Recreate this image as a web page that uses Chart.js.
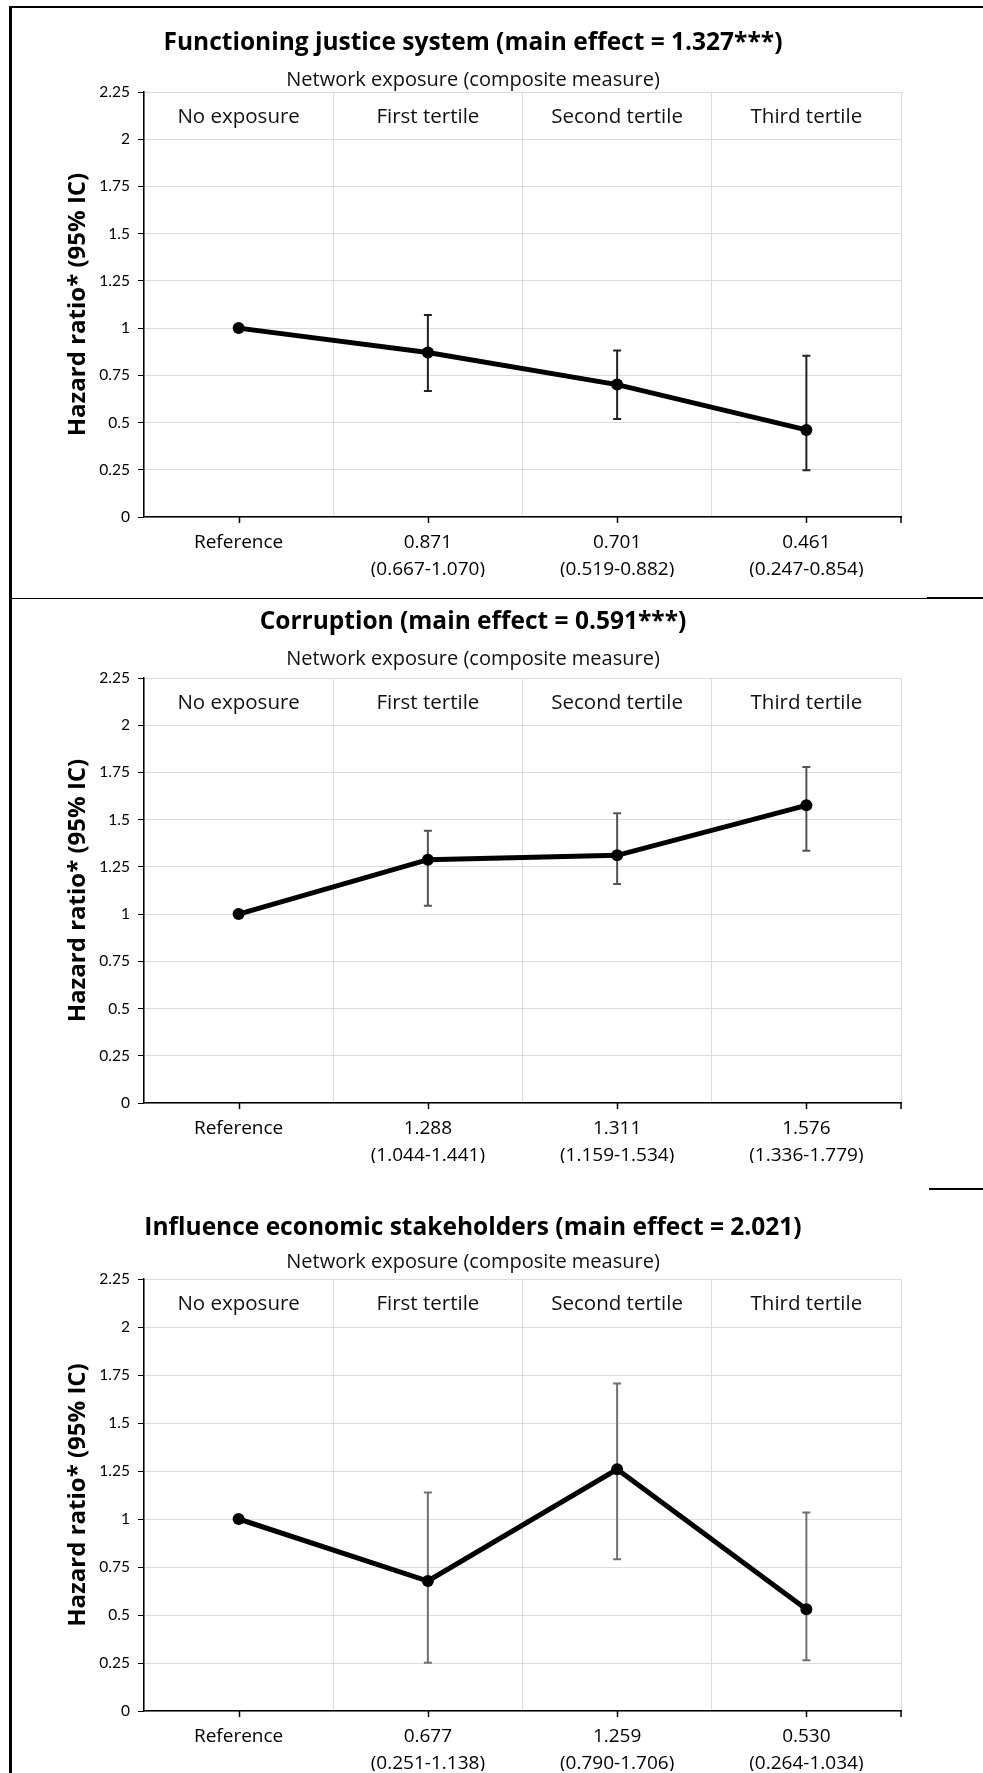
<!DOCTYPE html>
<html>
<head>
<meta charset="utf-8">
<script src="https://cdn.jsdelivr.net/npm/chart.js@4.4.1/dist/chart.umd.min.js"></script>
<style>
  body { margin: 0; background: #fff; width: 983px; height: 1773px; position: relative; overflow: hidden; }
  .panel { position: absolute; left: 0; width: 983px; }
  .panel canvas { display: block; }
  .rule { position: absolute; background: #000; }
</style>
</head>
<body>
<div class="panel" style="top:8px;height:582px"><canvas id="justice" width="983" height="582"></canvas></div>
<div class="panel" style="top:600px;height:585px"><canvas id="corruption" width="983" height="585"></canvas></div>
<div class="panel" style="top:1190px;height:583px"><canvas id="stakeholders" width="983" height="583"></canvas></div>

<div class="rule" style="left:9px;top:6px;width:3px;height:1767px"></div>
<div class="rule" style="left:9px;top:6px;width:974px;height:2px"></div>
<div class="rule" style="left:10px;top:598px;width:917px;height:1px"></div>
<div class="rule" style="left:927px;top:597px;width:56px;height:2px"></div>
<div class="rule" style="left:929px;top:1188px;width:54px;height:2px"></div>

<script>
(function() {
  'use strict';

  var CATEGORIES = ['No exposure', 'First tertile', 'Second tertile', 'Third tertile'];
  var REF_LABEL = 'Reference';
  var AXIS_TITLE_X = 'Network exposure (composite measure)';
  var AXIS_TITLE_Y = 'Hazard ratio* (95% IC)';
  var Y_MAX = 2.25;
  var Y_STEP = 0.25;

  var JUSTICE_HR = [1, 0.871, 0.701, 0.461];
  var JUSTICE_LOW = [null, 0.667, 0.519, 0.247];
  var JUSTICE_HIGH = [null, 1.070, 0.882, 0.854];

  var CORRUPTION_HR = [1, 1.288, 1.311, 1.576];
  var CORRUPTION_LOW = [null, 1.044, 1.159, 1.336];
  var CORRUPTION_HIGH = [null, 1.441, 1.534, 1.779];

  var STAKE_HR = [1, 0.677, 1.259, 0.530];
  var STAKE_LOW = [null, 0.251, 0.790, 0.264];
  var STAKE_HIGH = [null, 1.138, 1.706, 1.034];

  var FONT = '"Open Sans", Lato, "DejaVu Sans", sans-serif';
  var TICK_FONT = 'Lato, "Open Sans", sans-serif';
  Chart.defaults.font.family = FONT;
  Chart.defaults.color = '#000';

  function tickLabels(hr, low, high) {
    return hr.map(function(v, i) {
      if (low[i] == null) return REF_LABEL;
      return [v.toFixed(3), '(' + low[i].toFixed(3) + '-' + high[i].toFixed(3) + ')'];
    });
  }

  /* vertical CI bars with small caps, under the line */
  var errorBars = {
    id: 'errorBars',
    beforeDatasetsDraw: function(chart, args, opts) {
      var ctx = chart.ctx, xs = chart.scales.x, ys = chart.scales.y;
      ctx.save();
      ctx.strokeStyle = opts.color;
      ctx.lineWidth = 2;
      opts.low.forEach(function(lo, i) {
        if (lo == null) return;
        var px = xs.getPixelForValue(i);
        var top = ys.getPixelForValue(opts.high[i]);
        var bot = ys.getPixelForValue(lo);
        ctx.beginPath();
        ctx.moveTo(px, top); ctx.lineTo(px, bot);
        ctx.moveTo(px - 4, top); ctx.lineTo(px + 4, top);
        ctx.moveTo(px - 4, bot); ctx.lineTo(px + 4, bot);
        ctx.stroke();
      });
      ctx.restore();
    }
  };

  /* category names inside the top of the plot, and x tick marks at centres */
  var categoryHeads = {
    id: 'categoryHeads',
    afterDraw: function(chart) {
      var ctx = chart.ctx, xs = chart.scales.x, area = chart.chartArea;
      ctx.save();
      ctx.fillStyle = '#111';
      ctx.font = '20.5px ' + FONT;
      ctx.textAlign = 'center';
      ctx.textBaseline = 'middle';
      CATEGORIES.forEach(function(name, i) {
        ctx.fillText(name, xs.getPixelForValue(i), area.top + 25);
      });
      ctx.strokeStyle = '#000';
      ctx.lineWidth = 1.5;
      ctx.beginPath();
      CATEGORIES.forEach(function(name, i) {
        var px = Math.round(xs.getPixelForValue(i)) + 0.5;
        ctx.moveTo(px, area.bottom); ctx.lineTo(px, area.bottom + 6);
      });
      ctx.moveTo(area.right, area.bottom); ctx.lineTo(area.right, area.bottom + 6);
      ctx.stroke();
      ctx.restore();
    }
  };

  function makeChart(id, title, hr, low, high, barColor, lay) {
    var canvas = document.getElementById(id);
    var H = canvas.height;
    var xHeight = 60;
    new Chart(canvas.getContext('2d'), {
      type: 'line',
      data: {
        labels: tickLabels(hr, low, high),
        datasets: [{
          data: hr,
          borderColor: '#000',
          backgroundColor: '#000',
          borderWidth: 5,
          tension: 0,
          pointRadius: 6,
          pointBackgroundColor: '#000',
          pointBorderWidth: 0
        }]
      },
      options: {
        responsive: false,
        animation: false,
        events: [],
        layout: { padding: { left: 45, right: 82, top: 0, bottom: H - lay.bottom - xHeight } },
        plugins: {
          legend: { display: false },
          tooltip: { enabled: false },
          title: {
            display: true, text: title, color: '#000',
            font: { size: 24.5, weight: 'bold', lineHeight: 1.2 },
            padding: { top: lay.title - 14.7, bottom: (lay.sub - 12) - (lay.title + 14.7) }
          },
          subtitle: {
            display: true, text: AXIS_TITLE_X, color: '#111',
            font: { size: 20, lineHeight: 1.2 },
            padding: { top: 0, bottom: lay.top - (lay.sub + 12) }
          },
          errorBars: { low: low, high: high, color: barColor }
        },
        scales: {
          x: {
            type: 'category',
            offset: true,
            grid: { offset: true, color: '#dcdcdc', lineWidth: 1, drawTicks: false },
            border: { color: '#000', width: 1.5 },
            ticks: { color: '#000', font: { size: 19, lineHeight: 1.42 }, padding: 12, maxRotation: 0, autoSkip: false },
            afterFit: function(s) { s.height = xHeight; }
          },
          y: {
            min: 0, max: Y_MAX,
            grid: { color: '#dcdcdc', lineWidth: 1, tickColor: '#000', tickLength: 6 },
            border: { color: '#000', width: 1.5 },
            ticks: {
              stepSize: Y_STEP, color: '#000', padding: 8,
              font: { size: 15.5, family: TICK_FONT },
              callback: function(v) { return String(Number(v.toFixed(2))); }
            },
            title: {
              display: true, text: AXIS_TITLE_Y, color: '#000',
              font: { size: 24, weight: 'bold', lineHeight: 1.2 },
              padding: { top: 19, bottom: 2 }
            },
            afterFit: function(s) { s.width = 99; }
          }
        }
      },
      plugins: [errorBars, categoryHeads]
    });
  }

  makeChart('justice', 'Functioning justice system (main effect = 1.327***)',
    JUSTICE_HR, JUSTICE_LOW, JUSTICE_HIGH, '#222',
    { title: 35, sub: 72, top: 84, bottom: 509 });
  makeChart('corruption', 'Corruption (main effect = 0.591***)',
    CORRUPTION_HR, CORRUPTION_LOW, CORRUPTION_HIGH, '#555',
    { title: 22, sub: 59, top: 78, bottom: 503 });
  makeChart('stakeholders', 'Influence economic stakeholders (main effect = 2.021)',
    STAKE_HR, STAKE_LOW, STAKE_HIGH, '#707070',
    { title: 38, sub: 72, top: 89, bottom: 521 });
})();
</script>
</body>
</html>
